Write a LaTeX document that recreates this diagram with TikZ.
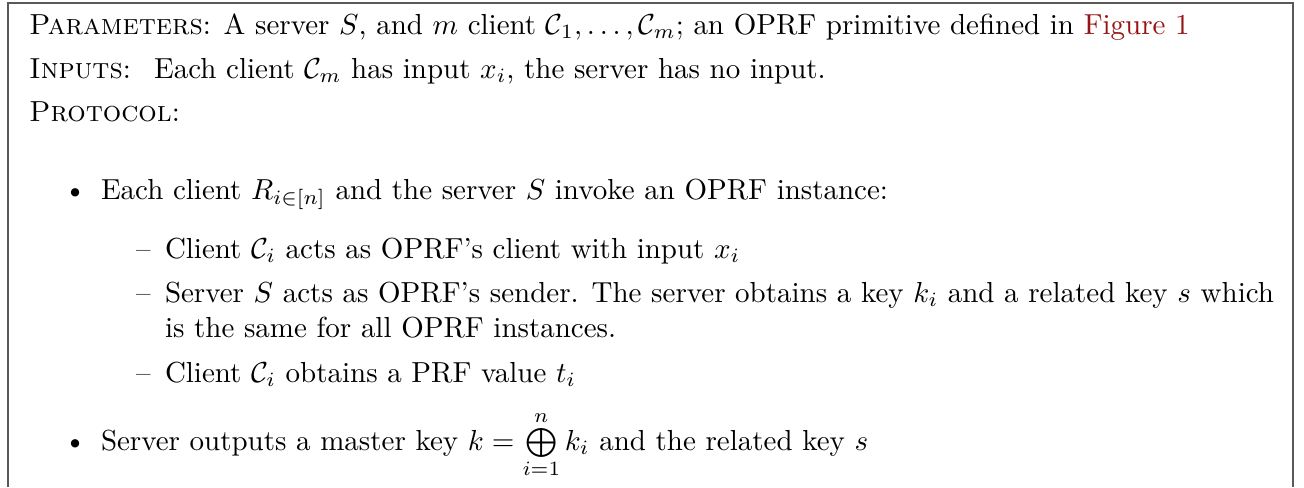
\documentclass[tikz,border=0pt]{standalone}
\usepackage{amsmath,amssymb}
\definecolor{figref}{RGB}{150,20,20}
\tikzset{
    txt/.style={anchor=base west, inner sep=0pt, outer sep=0pt},
    itemmark/.style={anchor=base east, inner sep=0pt, outer sep=0pt},
    frame/.style={draw=black!65, line width=0.5pt},
}
\newcommand{\cli}[1]{\mathcal{C}_{#1}}

\begin{document}
\begin{tikzpicture}[x=0.345pt, y=-0.345pt]
    \path[use as bounding box] (0,0) rectangle (1304,487);
    % frame, open at the bottom
    \draw[frame] (8,487) -- (8,3) -- (1293,3) -- (1293,487);

    \node[txt] (params) at (29,34) {\textsc{Parameters}: A server $S$, and $m$ client $\cli{1},\ldots,\cli{m}$; an OPRF primitive defined in \textcolor{figref}{Figure 1}};
    \node[txt] (inputs) at (29,78) {\textsc{Inputs}:\hspace{8pt}Each client $\cli{m}$ has input $x_i$, the server has no input.};
    \node[txt] (protocol) at (29,121) {\textsc{Protocol}:};

    % first item and its sub items
    \node[itemmark] (dotA) at (86.5,199) {\textbullet};
    \node[txt] (itemA) at (101,199) {Each client $R_{i\in[n]}$ and the server $S$ invoke an OPRF instance:};
    \node[itemmark] (dashA) at (150.5,258) {\textendash};
    \node[txt] (subA) at (165,258) {Client $\cli{i}$ acts as OPRF's client with input $x_i$};
    \node[itemmark] (dashB) at (150.5,302) {\textendash};
    \node[txt] (subB) at (165,302) {\makebox[382.6pt][s]{Server $S$ acts as OPRF's sender. The server obtains a key $k_i$ and a related key $s$ which}};
    \node[txt] (subBmore) at (165,337) {is the same for all OPRF instances.};
    \node[itemmark] (dashC) at (150.5,382) {\textendash};
    \node[txt] (subC) at (165,382) {Client $\cli{i}$ obtains a PRF value $t_i$};

    % second item
    \node[itemmark] (dotB) at (86.5,450) {\textbullet};
    \node[txt] (itemB) at (101,450) {Server outputs a master key $k = \bigoplus\limits_{i=1}^{n} k_i$ and the related key $s$};
\end{tikzpicture}
\end{document}
